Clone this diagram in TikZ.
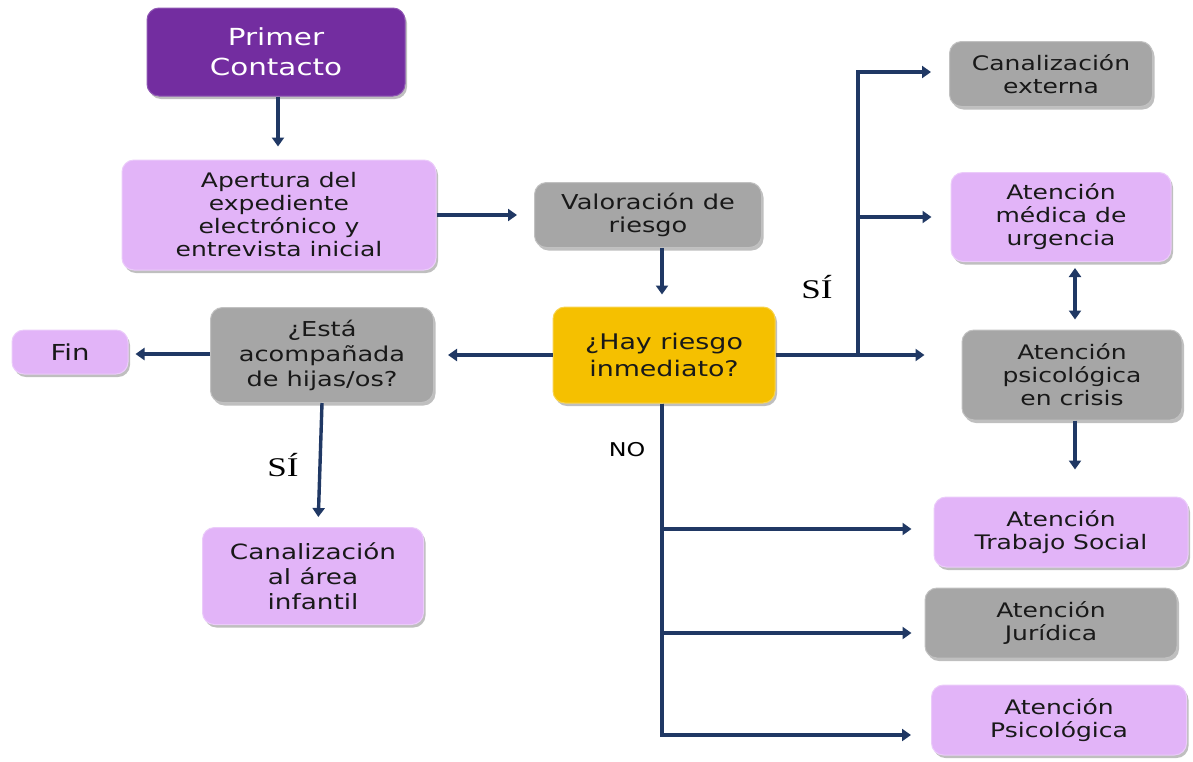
\documentclass[tikz,border=0pt]{standalone}
\usepackage{fontspec}
\setmainfont{DejaVu Sans}[FakeStretch=1.25]
\newfontfamily\labelserif{Liberation Serif}[FakeStretch=1.3]
\usetikzlibrary{arrows.meta,shadows,calc}
\definecolor{darkpurple}{RGB}{115,45,160}
\definecolor{lightpurple}{RGB}{226,180,248}
\definecolor{boxgray}{RGB}{166,166,166}
\definecolor{gold}{RGB}{245,192,0}
\definecolor{navy}{RGB}{32,56,100}
\definecolor{txt}{RGB}{25,25,25}
\tikzset{
  basebox/.style={rounded corners=12pt, align=center, text=txt, inner sep=2pt,
    drop shadow={shadow xshift=2pt, shadow yshift=-3pt, opacity=0.25, fill=black},
    font=\fontsize{20}{23}\selectfont},
  purplebox/.style={basebox, fill=lightpurple, draw=lightpurple!70!white, line width=1pt},
  graybox/.style={basebox, fill=boxgray, draw=boxgray!70!white, line width=1pt},
  goldbox/.style={basebox, fill=gold, draw=gold!70!white, line width=1pt},
  darkbox/.style={basebox, fill=darkpurple, draw=darkpurple!80!white, line width=1pt, text=white},
  arr/.style={draw=navy, line width=3.4pt, -{Triangle[length=9pt,width=12pt]}},
  arrboth/.style={draw=navy, line width=3.4pt, {Triangle[length=9pt,width=12pt]}-{Triangle[length=9pt,width=12pt]}},
  lbl/.style={text=black, inner sep=0pt}
}
\begin{document}
\begin{tikzpicture}[x=1pt,y=-1pt]
\useasboundingbox (0,0) rectangle (1193,761);
% nodes
\node[darkbox, minimum width=258, minimum height=88, font=\fontsize{23.5}{30}\selectfont] (pc) at (276,52) {Primer\\Contacto};
\node[purplebox, minimum width=314, minimum height=110] (ap) at (279,215) {Apertura del\\expediente\\electrónico y\\entrevista inicial};
\node[graybox, minimum width=227, minimum height=65, font=\fontsize{20.5}{23}\selectfont] (val) at (648,215) {Valoración de\\riesgo};
\node[goldbox, minimum width=222, minimum height=96, font=\fontsize{21.5}{27}\selectfont] (hay) at (664,355) {¿Hay riesgo\\inmediato?};
\node[graybox, minimum width=223, minimum height=95, font=\fontsize{20.5}{25}\selectfont] (esta) at (322,355) {¿Está\\acompañada\\de hijas/os?};
\node[purplebox, minimum width=116, minimum height=44, font=\fontsize{22}{25}\selectfont] (fin) at (70,352) {Fin};
\node[purplebox, minimum width=221, minimum height=97, font=\fontsize{21}{25}\selectfont] (inf) at (313,576) {Canalización\\al área\\infantil};
\node[graybox, minimum width=203, minimum height=65] (ext) at (1051,74) {Canalización\\externa};
\node[purplebox, minimum width=220, minimum height=89] (med) at (1061,217) {Atención\\médica de\\urgencia};
\node[graybox, minimum width=220, minimum height=90] (cri) at (1072,375) {Atención\\psicológica\\en crisis};
\node[purplebox, minimum width=254, minimum height=70] (ts) at (1061,532) {Atención\\Trabajo Social};
\node[graybox, minimum width=252, minimum height=70] (jur) at (1051,623) {Atención\\Jurídica};
\node[purplebox, minimum width=255, minimum height=70] (psi) at (1059,720) {Atención\\Psicológica};
% labels
\node[lbl, font=\labelserif\fontsize{27}{27}\selectfont] (si1) at (283,465) {SÍ};
\node[lbl, font=\labelserif\fontsize{27}{27}\selectfont] (si2) at (817,287) {SÍ};
\node[lbl, font=\fontsize{19}{19}\selectfont] (no) at (627,450) {NO};
% junctions
\coordinate (J) at (858,355);
% connectors
\draw[arr, shorten >=13pt] ([xshift=2pt]pc.south) -- ([xshift=2pt]pc.south |- ap.north);
\draw[arr, shorten >=17pt] (ap.east) -- (val.west);
\draw[arr, shorten >=12pt] ([xshift=-2pt]hay.north |- val.south) -- ([xshift=-2pt]hay.north);
\draw[arr, shorten >=14pt] (hay.west) -- (esta.east);
\draw[arr, shorten >=7pt] ([yshift=1pt]esta.west) -- ([yshift=1pt]esta.west -| fin.east);
\draw[arr, shorten >=10pt] (esta.south) -- ([xshift=5pt]inf.north);
\draw[arr, shorten >=37pt] (hay.east) -- (hay.east -| cri.west);
\draw[arr, shorten >=18pt] (J) |- ([yshift=2pt]ext.west);
\draw[arr, shorten >=19pt] (J) |- (med.west);
\draw[arrboth, shorten <=6pt, shorten >=10pt] ([xshift=3pt]cri.north |- med.south) -- ([xshift=3pt]cri.north);
\draw[arr, shorten >=27pt] ([xshift=3pt]cri.south) -- ([xshift=3pt]cri.south |- ts.north);
\draw[arr, shorten >=22pt] ([xshift=-2pt]hay.south) |- ([yshift=3pt]ts.west);
\draw[arr, shorten >=13pt] ([xshift=-2pt]hay.south) |- ([yshift=-10pt]jur.west);
\draw[arr, shorten >=20pt] ([xshift=-2pt]hay.south) |- ([yshift=-15pt]psi.west);
\end{tikzpicture}
\end{document}
